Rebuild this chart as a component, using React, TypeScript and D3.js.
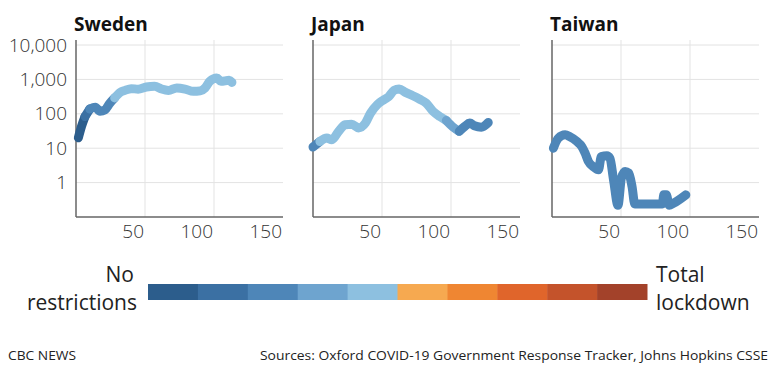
import React from 'react';
import * as d3 from 'd3';

// stringency colour scale, from no restrictions to total lockdown
const levelColors = [
  '#2c5d8c', '#3b70a3', '#4e86b8', '#6ea4cf', '#8dc0e0',
  '#f6a950', '#ef8632', '#e0652b', '#c4532b', '#a3422a',
];

const xTicks = [50, 100, 150];
const yTicks = [1, 10, 100, 1000, 10000];

// days since outbreak start, 7-day cases, stringency bucket
const swedenDays = [1.7, 4, 6.5, 10, 14, 17.4, 21, 24.6, 28, 32, 35.5, 40, 45, 51, 57, 62, 67, 73, 79, 85, 90, 93.5, 97, 102, 105, 111, 113];
const swedenCases = [20, 43, 83, 138, 155, 118, 130, 205, 290, 420, 480, 540, 520, 600, 630, 525, 480, 565, 525, 450, 465, 565, 880, 1100, 880, 940, 820];
const swedenLevel = [0, 0, 0, 1, 2, 2, 2, 2, 2, 4, 4, 4, 4, 4, 4, 4, 4, 4, 4, 4, 4, 4, 4, 4, 4, 4, 4];

const japanDays = [0, 5, 10, 13.7, 18.5, 23.4, 28, 33, 38, 41.7, 46.6, 51.4, 55, 58.7, 62.4, 67, 72, 77, 82, 87, 92, 96.6, 101.5, 106, 110, 113.6, 117, 122, 127];
const japanCases = [10.8, 15.7, 19.7, 17.6, 30.7, 48, 50, 39, 54, 105, 185, 257, 320, 480, 530, 420, 340, 270, 205, 118, 83, 64, 41, 31, 43, 54, 45, 41, 56];
const japanLevel = [2, 2, 4, 4, 4, 4, 4, 4, 4, 4, 4, 4, 4, 4, 4, 4, 4, 4, 4, 4, 4, 4, 3, 3, 2, 2, 2, 2, 2];

const taiwanDays = [1, 4.6, 9.5, 13, 18, 21.6, 24, 26.4, 30, 33.7, 35.7, 39.8, 42, 44.6, 47.8, 50.3, 53, 55.6, 58, 60, 80, 81, 82.8, 85, 88, 97];
const taiwanCases = [10, 19.6, 24.5, 21.5, 15.7, 11.2, 7.2, 4.1, 2.9, 2.35, 5.7, 6, 5.1, 1.2, 0.22, 1.35, 2.1, 1.9, 0.76, 0.24, 0.24, 0.44, 0.44, 0.22, 0.25, 0.44];
const taiwanLevel = taiwanDays.map(() => 2);

const panels = [
  { name: 'Sweden', left: 76, days: swedenDays, cases: swedenCases, level: swedenLevel, yLabels: true },
  { name: 'Japan', left: 313, days: japanDays, cases: japanCases, level: japanLevel, yLabels: false },
  { name: 'Taiwan', left: 552, days: taiwanDays, cases: taiwanCases, level: taiwanLevel, yLabels: false },
];

const plotW = 207;
const top = 40;
const bottom = 217;
const font = '"Open Sans", "Noto Sans", sans-serif';

const y = d3.scaleLog().domain([0.1, 14000]).range([bottom, top]);

const Panel = ({ p }: { p: typeof panels[number] }) => {
  const x = d3.scaleLinear().domain([0, 150]).range([p.left, p.left + plotW]);
  const line = d3.line<number>()
    .x(i => x(p.days[i]))
    .y(i => y(p.cases[i]))
    .curve(d3.curveMonotoneX);

  // split into runs of the same stringency level, overlapping by one point
  const runs: { level: number; idx: number[] }[] = [];
  p.days.forEach((_, i) => {
    const last = runs[runs.length - 1];
    if (last && last.level === p.level[i]) last.idx.push(i);
    else runs.push({ level: p.level[i], idx: i > 0 ? [i - 1, i] : [i] });
  });

  return (
    <g>
      <text x={p.left - 2} y={31} fontFamily={font} fontWeight={700} fontSize={19} fill="#111">{p.name}</text>
      {yTicks.map(t => (
        <line key={t} x1={p.left} x2={p.left + plotW} y1={y(t)} y2={y(t)} stroke="#e3e3e3" strokeWidth={1} />
      ))}
      {xTicks.slice(0, 2).map(t => (
        <line key={t} x1={x(t)} x2={x(t)} y1={top} y2={bottom} stroke="#e3e3e3" strokeWidth={1} />
      ))}
      <line x1={p.left} x2={p.left} y1={top} y2={bottom} stroke="#666" strokeWidth={1.5} />
      <line x1={p.left} x2={p.left + plotW} y1={bottom} y2={bottom} stroke="#666" strokeWidth={1.5} />
      {xTicks.map(t => (
        <text key={t} x={x(t) - 1} y={238} textAnchor="end" fontFamily={font} fontWeight={300} fontSize={19} fill="#333">{t}</text>
      ))}
      {p.yLabels && yTicks.map(t => (
        <text key={t} x={67} y={y(t)} dy="0.35em" textAnchor="end" fontFamily={font} fontWeight={300} fontSize={19} fill="#333">
          {d3.format(',')(t)}
        </text>
      ))}
      {runs.map((r, k) => (
        <path key={k} d={line(r.idx) || ''} fill="none" stroke={levelColors[r.level]} strokeWidth={9}
          strokeLinecap="round" strokeLinejoin="round" />
      ))}
    </g>
  );
};

const legendX = d3.scaleBand<number>().domain(d3.range(levelColors.length)).range([148, 647]);

export default function App() {
  return (
    <svg width={780} height={372} style={{ position: 'absolute', left: 0, top: 0, background: '#fff' }}>
      {panels.map(p => <Panel key={p.name} p={p} />)}

      {levelColors.map((c, i) => (
        <rect key={i} x={legendX(i)} y={284} width={legendX.bandwidth() + 0.5} height={16} fill={c} />
      ))}
      <text x={134} y={282} textAnchor="end" fontFamily={font} fontSize={21} fill="#222">No</text>
      <text x={137} y={310} textAnchor="end" fontFamily={font} fontSize={21} fill="#222">restrictions</text>
      <text x={656} y={282} fontFamily={font} fontSize={21} fill="#222">Total</text>
      <text x={656} y={310} fontFamily={font} fontSize={21} fill="#222">lockdown</text>

      <text x={8} y={360} fontFamily={font} fontSize={13} fill="#222" textLength={68} lengthAdjust="spacingAndGlyphs">CBC NEWS</text>
      <text x={260} y={360} fontFamily={font} fontSize={13} fill="#222" textLength={508} lengthAdjust="spacingAndGlyphs">
        Sources: Oxford COVID-19 Government Response Tracker, Johns Hopkins CSSE
      </text>
    </svg>
  );
}
